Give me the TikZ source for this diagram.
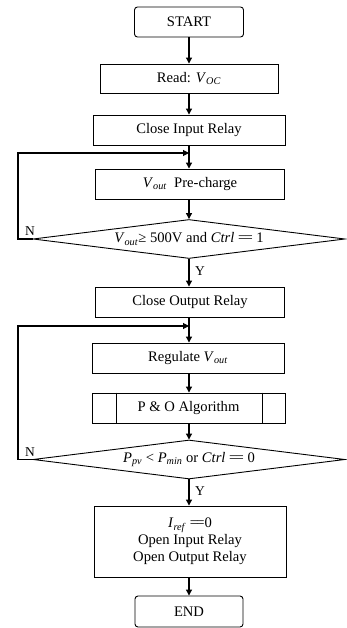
\documentclass[tikz,border=0pt]{standalone}
\usepackage{fontspec}
\setmainfont{Liberation Serif}
\usetikzlibrary{shapes.geometric,arrows.meta}
\newcommand{\var}[2]{\textit{#1}\textsubscript{\textit{#2}}}
\newcommand{\eqeq}{=\kern-0.12em=}
\begin{document}
\begin{tikzpicture}[x=1pt,y=-1pt,
  font=\fontsize{14.6}{17}\selectfont,
  box/.style={draw,line width=0.9pt,rectangle,inner sep=0pt,align=center},
  term/.style={box,rounded corners=3pt},
  cond/.style={draw,line width=0.9pt,diamond,inner sep=0pt,minimum width=312pt,minimum height=39pt,aspect=8},
  flow/.style={line width=1.1pt,-{Triangle[length=6pt,width=6pt]}},
  lbl/.style={inner sep=0pt,font=\fontsize{13.5}{15}\selectfont}]
\useasboundingbox (0,0) rectangle (347,628);

\node[term,minimum width=109pt,minimum height=30pt] (start) at (189,22) {START};
\node[box,minimum width=178pt,minimum height=29pt] (read) at (189,78.5) {Read: \var{V}{OC}};
\node[box,minimum width=192pt,minimum height=30pt] (cir) at (189,130) {Close Input Relay};
\node[box,minimum width=189pt,minimum height=30pt] (pre) at (190,184) {\var{V}{out}\ \ Pre-charge};
\node[cond] (d1) at (189,239) {\var{V}{out}≥ 500V and \textit{Ctrl} \eqeq{} 1};
\node[box,minimum width=189pt,minimum height=30pt] (cor) at (190,302) {Close Output Relay};
\node[box,minimum width=192pt,minimum height=30pt] (reg) at (188,358) {Regulate \var{V}{out}};
\node[box,minimum width=193pt,minimum height=30pt] (po) at (188.5,408) {P \& O Algorithm};
\draw[line width=0.9pt] ([xshift=25pt]po.north west) -- ([xshift=25pt]po.south west)
                        ([xshift=-23pt]po.north east) -- ([xshift=-23pt]po.south east);
\node[cond] (d2) at (189,459.5) {\var{P}{pv} < \var{P}{min} or \textit{Ctrl} \eqeq{} 0};
\node[box,minimum width=192pt,minimum height=71pt] (off) at (190,541.5)
  {\var{I}{ref} \eqeq0\\Open Input Relay\\Open Output Relay};
\node[term,minimum width=108pt,minimum height=31pt] (end) at (189,611.5) {END};

% joining points of the two feedback loops
\coordinate (m1) at (189,153);
\coordinate (m2) at (189,326);
\coordinate (l1) at (18,153);
\coordinate (l2) at (18,326);

\draw[flow] (start) -- (read);
\draw[flow] (read) -- (cir);
\draw[flow] (cir.south -| m1) -- (pre.north -| m1);
\draw[flow] (pre.south -| d1.north) -- (d1.north);
\draw[flow] (d1.south) -- (cor.north -| d1.south);
\draw[flow] (cor.south -| m2) -- (reg.north -| m2);
\draw[flow] (reg.south -| m2) -- (po.north -| m2);
\draw[flow] (po.south -| d2.north) -- (d2.north);
\draw[flow] (d2.south) -- (off.north -| d2.south);
\draw[flow] (off.south -| end.north) -- (end.north);

% "N" branches loop back up
\draw[flow] (d1.west) -- (d1.west -| l1) -- (l1) -- (m1);
\draw[flow] (d2.west) -- (d2.west -| l2) -- (l2) -- (m2);

\node[lbl] (n1) at (30,231) {N};
\node[lbl] (y1) at (200,271) {Y};
\node[lbl] (n2) at (30,452) {N};
\node[lbl] (y2) at (200,491) {Y};
\end{tikzpicture}
\end{document}
